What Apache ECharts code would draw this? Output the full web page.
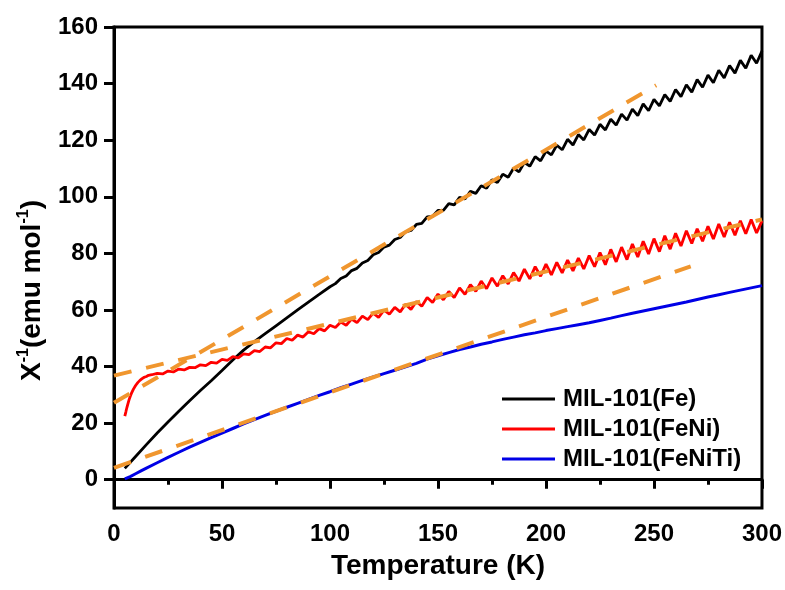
<!DOCTYPE html>
<html>
<head>
<meta charset="utf-8">
<script src="https://cdn.jsdelivr.net/npm/echarts@6/dist/echarts.min.js"></script>
<style>html,body{margin:0;padding:0;background:#fff}#c{width:785px;height:590px}</style>
</head>
<body>
<div id="c"></div>
<script>
const xTicks = [0, 50, 100, 150, 200, 250, 300];
const yTicks = [0, 20, 40, 60, 80, 100, 120, 140, 160];
const seriesNames = ['MIL-101(Fe)', 'MIL-101(FeNi)', 'MIL-101(FeNiTi)'];

const fe = [[5,4],[10,8.2],[15,12.4],[20,16.5],[25,20.4],[30,24.2],[35,27.9],[40,31.5],[45,35],[50,38.6],[55,42.3],[60,45.8],[65,48.8],[70,51.6],[75,54.4],[80,57.2],[85,60],[90,62.8],[95,65.5],[100,68.2],
[102.5,69.3],[105,71.1],[107.5,72],[110,73.9],[112.5,74.7],[115,76.6],[117.5,77.5],[120,79.5],[122.5,80.3],[125,82.2],[127.5,82.9],[130,84.9],[132.5,85.6],[135,87.6],[137.5,88.1],[140,90.2],[142.5,90.6],[145,92.9],[147.5,93.1],[150,95.2],
[152.5,95.2],[155,97.6],[157.5,97.1],[160,99.8],[162.5,99.2],[165,101.9],[167.5,101.2],[170,103.9],[172.5,103],[175,106],[177.5,105],[180,108],[182.5,106.9],[185,110.1],[187.5,108.8],[190,112.1],[192.5,110.8],[195,114.2],[197.5,112.7],[200,116.1],
[202.5,114.8],[205,118.2],[207.5,116.6],[210,120.3],[212.5,118.3],[215,122],[217.5,120.1],[220,123.8],[222.5,121.8],[225,125.6],[227.5,123.6],[230,127.4],[232.5,125.3],[235,129.2],[237.5,127.1],[240,131],[242.5,128.7],[245,132.8],[247.5,130.4],[250,134.4],
[252.5,132.1],[255,136.1],[257.5,133.7],[260,137.9],[262.5,135.4],[265,139.6],[267.5,137],[270,141.4],[272.5,138.7],[275,143],[277.5,140.3],[280,144.7],[282.5,142],[285,146.4],[287.5,143.7],[290,148.2],[292.5,145.4],[295,150],[297.5,147.2],[300,151.5]];

const feNi = [[5,22.5],[5.5,24],[6,25.6],[6.5,27],[7,28.3],[7.5,29.4],[8,30.4],[9,32],[10,33.3],[11,34.3],[12,35.1],[13,35.7],[14,36.2],[15,36.5],[16,36.9],[17.5,37.1],[20,37.6],[22.5,37.4],[25,38.4],[27.5,38.1],[30,39.1],[32.5,38.8],[35,39.7],[37.5,39.6],[40,40.6],[42.5,40.3],[45,41.5],[47.5,41.2],[50,42.5],[52.5,42.2],[55,43.5],[57.5,43.1],[60,44.5],[62.5,44.2],[65,45.6],[67.5,45.3],[70,46.9],[72.5,46.6],[75,48.4],[77.5,48.1],[80,49.9],[82.5,49.3],[85,51.1],[87.5,50.4],[90,52.3],[92.5,51.6],[95,53.4],[97.5,52.6],[100,54.6],
[102.5,53.8],[105,55.7],[107.5,54.6],[110,56.8],[112.5,55.5],[115,57.8],[117.5,56.6],[120,58.9],[122.5,57.4],[125,59.9],[127.5,58.5],[130,60.9],[132.5,59.3],[135,62],[137.5,60.2],[140,63],[142.5,61.3],[145,64.4],[147.5,62.6],[150,65.6],
[152.5,63.6],[155,66.5],[157.5,64.4],[160,67.8],[162.5,65.5],[165,68.9],[167.5,66.6],[170,70.2],[172.5,67.5],[175,71.3],[177.5,68.4],[180,72.1],[182.5,69.2],[185,73.2],[187.5,70.2],[190,74.4],[192.5,71],[195,75.3],[197.5,71.9],[200,76.2],
[202.5,72.4],[205,76.8],[207.5,73.1],[210,77.6],[212.5,73.8],[215,78.3],[217.5,74.5],[220,79.2],[222.5,75.3],[225,80.3],[227.5,76],[230,81.4],[232.5,77],[235,82.2],[237.5,77.8],[240,83.3],[242.5,78.7],[245,84.3],[247.5,79.8],[250,85.2],
[252.5,80.6],[255,86.2],[257.5,81.5],[260,87.1],[262.5,82.6],[265,88],[267.5,83.5],[270,88.7],[272.5,84.3],[275,89.6],[277.5,85.1],[280,90.4],[282.5,85.8],[285,91],[287.5,86.4],[290,91.5],[292.5,86.9],[295,92],[297.5,87.2],[300,91.5]];

const feNiTi = [[5,0.3],[7.5,1.1],[10,2.1],[12.5,3.1],[15,4.1],[20,6],[25,7.9],[30,9.7],[35,11.5],[40,13.2],[45,14.9],[50,16.5],[55,18.1],[60,19.7],[65,21.2],[70,22.7],[75,24.2],[80,25.6],[85,27],[90,28.4],[95,29.8],[100,31.1],[105,32.5],[110,33.8],[115,35.1],[120,36.3],[125,37.5],[130,38.7],[135,39.9],[140,41.1],[145,42.6],[150,43.8],[155,44.9],[160,46],[165,46.9],[170,47.9],[175,48.7],[180,49.6],[185,50.4],[190,51.2],[195,51.9],[200,52.7],[205,53.4],[210,54.1],[215,54.8],[220,55.5],[225,56.3],[230,57.1],[235,58],[240,58.8],[245,59.6],[250,60.4],[255,61.2],[260,62],[265,62.8],[270,63.7],[275,64.6],[280,65.4],[285,66.2],[290,67],[295,67.8],[300,68.6]];

// Curie-Weiss fit lines (end points)
const fitFe = [[0,27.2],[251,139.4]];
const fitFeNi = [[0,36.8],[300,92]];
const fitFeNiTi = [[0,4.2],[267,75.4]];

const FONT = "'Liberation Sans', Arial, sans-serif";
const chart = echarts.init(document.getElementById('c'), null, {renderer:'canvas'});
const fitStyle = {color:'#F0962E', width:4, type:[18,15], cap:'butt'};
function fitSeries(name, d){
  return {name:name, type:'line', data:d, showSymbol:false, symbol:'none', z:5, silent:true,
    lineStyle:fitStyle, itemStyle:{color:'#F0962E'}};
}
chart.setOption({
  animation:false,
  backgroundColor:'#fff',
  grid:{left:114, right:23, top:27, bottom:82, show:true, borderColor:'#000', borderWidth:3, backgroundColor:'transparent'},
  legend:{
    data:seriesNames, orient:'vertical', left:497, top:382, icon:'rect', itemWidth:53, itemHeight:3, itemGap:6,
    textStyle:{fontFamily:FONT, fontSize:24, fontWeight:'bold', color:'#000', lineHeight:24, padding:[0,0,0,3]}
  },
  xAxis:{
    type:'value', min:0, max:300, interval:50,
    name:'Temperature (K)', nameLocation:'middle', nameGap:44,
    nameTextStyle:{fontFamily:FONT, fontSize:28, fontWeight:'bold', color:'#000'},
    axisLine:{show:true, lineStyle:{color:'#000', width:3}},
    axisTick:{show:true, length:9, lineStyle:{color:'#000', width:3}},
    minorTick:{show:true, splitNumber:2, length:5, lineStyle:{color:'#000', width:3}},
    splitLine:{show:false},
    axisLabel:{customValues:xTicks, fontFamily:FONT, fontSize:24, fontWeight:'bold', color:'#000', margin:14}
  },
  yAxis:{
    type:'value', min:-10, max:160,
    name:'{m|X}{s|-1}{m|(emu mol}{s|-1}{m|)}', nameLocation:'middle', nameGap:66, nameRotate:90,
    nameTextStyle:{padding:[0,46,0,0], rich:{
      m:{fontFamily:FONT, fontSize:28, fontWeight:'bold', color:'#000', lineHeight:32},
      s:{fontFamily:FONT, fontSize:16, fontWeight:'bold', color:'#000', verticalAlign:'top', lineHeight:16}
    }},
    axisLine:{show:true, lineStyle:{color:'#000', width:3}},
    axisTick:{show:true, customValues:yTicks, length:10, lineStyle:{color:'#000', width:3}},
    splitLine:{show:false},
    axisLabel:{customValues:yTicks, fontFamily:FONT, fontSize:24, fontWeight:'bold', color:'#000', margin:16}
  },
  series:[
    {name:seriesNames[0], type:'line', data:fe, showSymbol:false, symbol:'none', z:3, lineStyle:{color:'#000000', width:2.8}, itemStyle:{color:'#000000'}},
    {name:seriesNames[1], type:'line', data:feNi, showSymbol:false, symbol:'none', z:3, lineStyle:{color:'#FF0000', width:2.8}, itemStyle:{color:'#FF0000'}},
    {name:seriesNames[2], type:'line', data:feNiTi, showSymbol:false, symbol:'none', z:3, lineStyle:{color:'#0000E6', width:3}, itemStyle:{color:'#0000E6'}},
    fitSeries('fitFe', fitFe),
    fitSeries('fitFeNi', fitFeNi),
    fitSeries('fitFeNiTi', fitFeNiTi)
  ]
});
</script>
</body>
</html>
